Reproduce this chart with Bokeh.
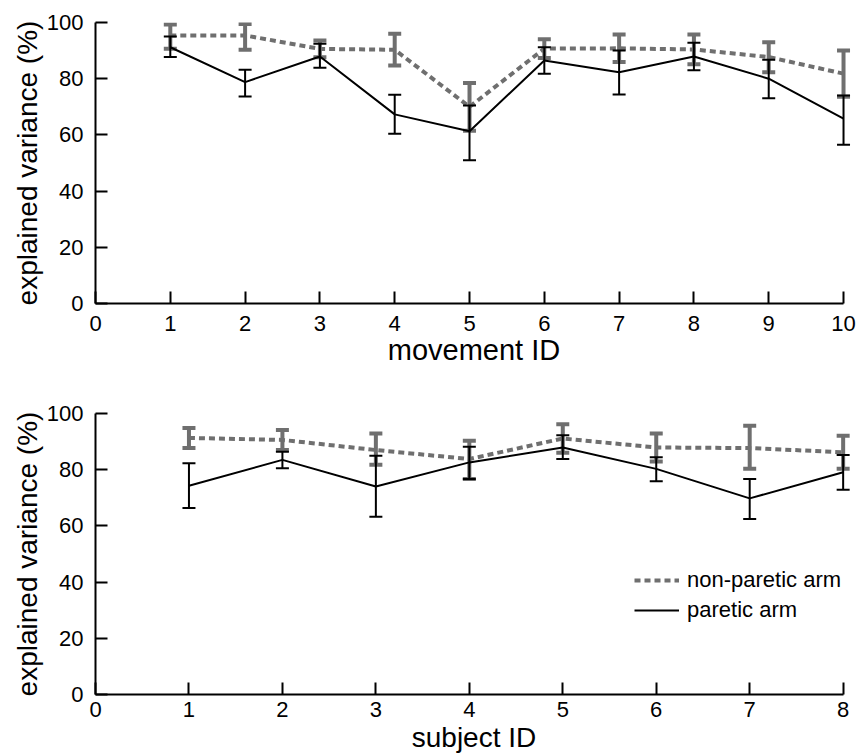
from bokeh.plotting import figure
from bokeh.layouts import column
from bokeh.models import Range1d, FixedTicker, Legend, LegendItem, ColumnDataSource
from bokeh.embed import file_html
from bokeh.resources import INLINE

# ---------------- data ----------------
movement_id = [1, 2, 3, 4, 5, 6, 7, 8, 9, 10]
mov_nonparetic = [95.4, 95.4, 90.6, 90.3, 70.0, 90.7, 90.8, 90.4, 87.7, 81.8]
mov_nonparetic_hi = [99.3, 99.5, 93.6, 96.0, 78.5, 94.0, 95.7, 95.7, 93.0, 90.0]
mov_nonparetic_lo = [90.7, 90.3, 87.6, 84.7, 61.5, 87.4, 85.9, 85.1, 82.3, 73.6]
mov_paretic = [91.2, 78.8, 87.9, 67.3, 61.3, 86.5, 82.3, 87.9, 80.0, 65.8]
mov_paretic_hi = [95.0, 83.2, 92.4, 74.3, 70.5, 91.2, 90.0, 92.8, 86.7, 74.0]
mov_paretic_lo = [87.7, 73.7, 83.9, 60.4, 51.0, 81.8, 74.4, 83.0, 73.0, 56.5]

subject_id = [1, 2, 3, 4, 5, 6, 7, 8]
sub_nonparetic = [91.3, 90.6, 87.0, 83.8, 91.1, 87.9, 87.7, 86.2]
sub_nonparetic_hi = [94.8, 94.1, 92.9, 90.3, 96.2, 92.9, 95.6, 92.1]
sub_nonparetic_lo = [87.7, 87.0, 81.8, 76.7, 86.0, 82.9, 80.3, 80.3]
sub_paretic = [74.3, 83.5, 74.0, 82.6, 87.9, 80.3, 69.8, 79.1]
sub_paretic_hi = [82.3, 86.4, 85.0, 88.2, 92.3, 84.4, 76.7, 85.2]
sub_paretic_lo = [66.4, 80.5, 63.3, 76.7, 83.8, 75.9, 62.5, 72.9]

y_ticks = [0, 20, 40, 60, 80, 100]
mov_ticks = list(range(0, 11))
sub_ticks = list(range(0, 9))

GRAY = "#6f6f6f"
FONT = "Liberation Sans"


def style_axes(p, xticks, xlabel, x_pad, tick_standoff_x, label_standoff_x, xlabel_size):
    xmax = xticks[-1]
    # a little room past the last tick so the end caps are not clipped
    p.x_range = Range1d(0, xmax + x_pad)
    p.y_range = Range1d(0, 100)
    p.xaxis.bounds = (0, xmax)
    p.xgrid.visible = False
    p.ygrid.visible = False
    p.outline_line_color = None
    p.xaxis.ticker = FixedTicker(ticks=xticks)
    p.yaxis.ticker = FixedTicker(ticks=y_ticks)
    for ax in (p.xaxis[0], p.yaxis[0]):
        ax.axis_line_width = 2
        ax.axis_line_color = "black"
        ax.major_tick_line_width = 2
        ax.major_tick_line_color = "black"
        ax.major_tick_in = 12
        ax.major_tick_out = 0
        ax.minor_tick_line_color = None
        ax.major_label_text_font = FONT
        ax.major_label_text_font_size = "22px"
        ax.major_label_text_color = "black"
        ax.axis_label_text_font = FONT
        ax.axis_label_text_font_style = "normal"
        ax.axis_label_text_color = "black"
    p.xaxis.axis_label = xlabel
    p.xaxis.axis_label_text_font_size = xlabel_size
    p.yaxis.axis_label = "explained variance (%)"
    p.yaxis.axis_label_text_font_size = "28px"
    p.xaxis.major_label_standoff = tick_standoff_x
    p.xaxis.axis_label_standoff = label_standoff_x
    p.yaxis.major_label_standoff = 12
    p.yaxis.axis_label_standoff = 1


def draw_series(p, x, y, lo, hi, color, width, dash, cap_w):
    src = ColumnDataSource(dict(x=x, y=y, lo=lo, hi=hi))
    p.segment(x0="x", y0="lo", x1="x", y1="hi", source=src,
              line_color=color, line_width=width)
    p.scatter(x="x", y="hi", source=src, marker="dash", size=cap_w,
              line_color=color, line_width=width)
    p.scatter(x="x", y="lo", source=src, marker="dash", size=cap_w,
              line_color=color, line_width=width)
    r = p.line(x="x", y="y", source=src, line_color=color,
               line_width=width, line_dash=dash)
    return r


# ---------------- top figure ----------------
p1 = figure(width=859, height=390, output_backend="svg", toolbar_location=None,
            min_border_left=95, min_border_right=7, min_border_top=22,
            min_border_bottom=87)
style_axes(p1, mov_ticks, "movement ID", 0.12, 12, 0, "29px")
draw_series(p1, movement_id, mov_nonparetic, mov_nonparetic_lo, mov_nonparetic_hi,
            GRAY, 4, "6 4", 13)
draw_series(p1, movement_id, mov_paretic, mov_paretic_lo, mov_paretic_hi,
            "black", 2, "solid", 13)

# ---------------- bottom figure ----------------
p2 = figure(width=859, height=366, output_backend="svg", toolbar_location=None,
            min_border_left=95, min_border_right=7, min_border_top=23,
            min_border_bottom=62)
style_axes(p2, sub_ticks, "subject ID", 0.1, 7, 2, "28px")
g2 = draw_series(p2, subject_id, sub_nonparetic, sub_nonparetic_lo, sub_nonparetic_hi,
                 GRAY, 4, "6 4", 13)
b2 = draw_series(p2, subject_id, sub_paretic, sub_paretic_lo, sub_paretic_hi,
                 "black", 2, "solid", 13)

legend = Legend(items=[LegendItem(label="non-paretic arm", renderers=[g2]),
                       LegendItem(label="paretic arm", renderers=[b2])],
                location=(539, 71))
legend.background_fill_alpha = 0
legend.border_line_color = None
legend.label_text_font = FONT
legend.label_text_font_size = "22px"
legend.label_text_color = "black"
legend.glyph_width = 45
legend.glyph_height = 26
legend.label_height = 26
legend.label_standoff = 8
legend.spacing = 4
legend.padding = 0
legend.margin = 0
p2.add_layout(legend, "center")

layout = column(p1, p2, spacing=0)
open("out.html", "w").write(file_html(layout, INLINE))
